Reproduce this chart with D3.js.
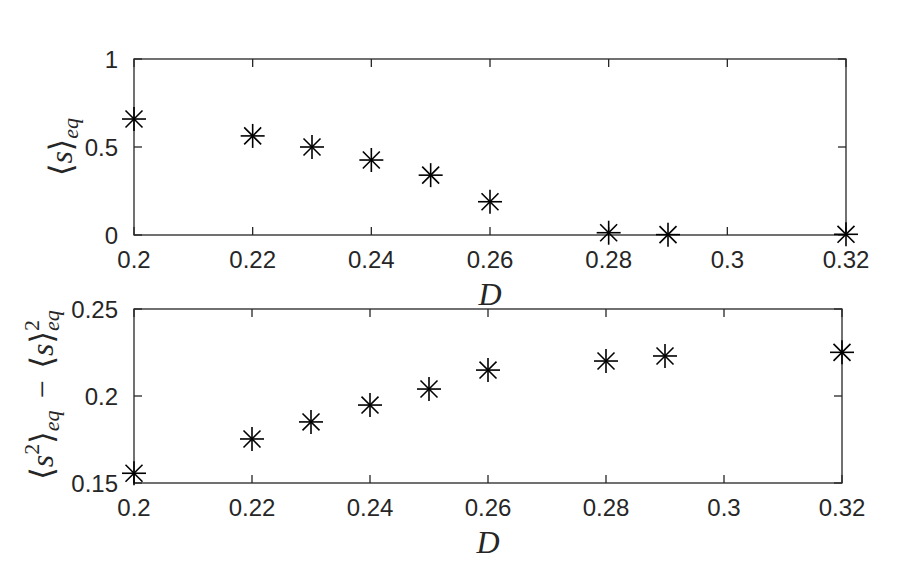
<!DOCTYPE html>
<html>
<head>
<meta charset="utf-8">
<script src="https://cdn.jsdelivr.net/npm/d3@7"></script>
<style>
  body { margin: 0; background: #fff; }
  svg { display: block; }
</style>
</head>
<body>
<div id="chart"></div>
<script>
// diffusion constant D on the x axis
const dValues = [0.2, 0.22, 0.23, 0.24, 0.25, 0.26, 0.28, 0.29, 0.32];
// <s>_eq
const meanS = [0.659, 0.563, 0.500, 0.426, 0.340, 0.189, 0.013, 0.002, 0.004];
// <s^2>_eq - <s>_eq^2
const varS = [0.1556, 0.1753, 0.1851, 0.1948, 0.2040, 0.2149, 0.2201, 0.2230, 0.2251];

const xTicks = [0.2, 0.22, 0.24, 0.26, 0.28, 0.3, 0.32];
const topYTicks = [0, 0.5, 1];
const bottomYTicks = [0.15, 0.2, 0.25];

const width = 914;
const height = 588;
const axisColor = "#262626";
const tickFont = "'Liberation Sans', Arial, Helvetica, sans-serif";
const mathFont = "'Liberation Serif', 'DejaVu Serif', serif";

const svg = d3.select("#chart")
  .append("svg")
  .attr("width", width)
  .attr("height", height);

function drawPanel(opts) {
  const x = d3.scaleLinear().domain([0.2, 0.32]).range([opts.left, opts.right]);
  const y = d3.scaleLinear().domain(opts.yDomain).range([opts.bottom, opts.top]);
  const g = svg.append("g");
  const tickLen = 8;

  // frame
  g.append("rect")
    .attr("x", opts.left)
    .attr("y", opts.top)
    .attr("width", opts.right - opts.left)
    .attr("height", opts.bottom - opts.top)
    .attr("fill", "none")
    .attr("stroke", axisColor)
    .attr("stroke-width", 1.3);

  // x ticks, bottom and top, pointing inward
  const xt = g.append("g").selectAll("g").data(xTicks).enter().append("g");
  xt.append("line")
    .attr("x1", d => x(d)).attr("x2", d => x(d))
    .attr("y1", opts.bottom).attr("y2", opts.bottom - tickLen)
    .attr("stroke", axisColor).attr("stroke-width", 1.3);
  xt.append("line")
    .attr("x1", d => x(d)).attr("x2", d => x(d))
    .attr("y1", opts.top).attr("y2", opts.top + tickLen)
    .attr("stroke", axisColor).attr("stroke-width", 1.3);
  xt.append("text")
    .attr("x", d => x(d))
    .attr("y", opts.bottom + 33)
    .attr("text-anchor", "middle")
    .style("font-family", tickFont)
    .style("font-size", "24px")
    .style("fill", axisColor)
    .text(d => d3.format("~g")(d));

  // y ticks, left and right
  const yt = g.append("g").selectAll("g").data(opts.yTicks).enter().append("g");
  yt.append("line")
    .attr("x1", opts.left).attr("x2", opts.left + tickLen)
    .attr("y1", d => y(d)).attr("y2", d => y(d))
    .attr("stroke", axisColor).attr("stroke-width", 1.3);
  yt.append("line")
    .attr("x1", opts.right).attr("x2", opts.right - tickLen)
    .attr("y1", d => y(d)).attr("y2", d => y(d))
    .attr("stroke", axisColor).attr("stroke-width", 1.3);
  yt.append("text")
    .attr("x", opts.left - 16)
    .attr("y", d => y(d))
    .attr("dy", "0.36em")
    .attr("text-anchor", "end")
    .style("font-family", tickFont)
    .style("font-size", "24px")
    .style("fill", axisColor)
    .text(d => d3.format("~g")(d));

  // x label
  g.append("text")
    .attr("x", (opts.left + opts.right) / 2)
    .attr("y", opts.bottom + 70)
    .attr("text-anchor", "middle")
    .style("font-family", mathFont)
    .style("font-style", "italic")
    .style("font-size", "32px")
    .style("fill", axisColor)
    .text("D");

  // asterisk markers
  const r = 12;
  const spokes = d3.range(4).map(i => i * Math.PI / 4);
  const pts = g.append("g").selectAll("g")
    .data(dValues.map((d, i) => ({ d: d, v: opts.values[i] })))
    .enter().append("g")
    .attr("transform", p => `translate(${x(p.d)},${y(p.v)})`);
  spokes.forEach(a => {
    pts.append("line")
      .attr("x1", -r * Math.cos(a)).attr("y1", -r * Math.sin(a))
      .attr("x2", r * Math.cos(a)).attr("y2", r * Math.sin(a))
      .attr("stroke", "#000")
      .attr("stroke-width", 1.6);
  });

  return g;
}

drawPanel({
  left: 134, right: 846, top: 59, bottom: 235,
  yDomain: [0, 1], yTicks: topYTicks, values: meanS
});

drawPanel({
  left: 134, right: 842, top: 309, bottom: 483,
  yDomain: [0.15, 0.25], yTicks: bottomYTicks, values: varS
});

// y labels (rotated math text)
const mainSize = "32px";
const subSize = "22px";
function mathLabel(cx, cy, parts) {
  const t = svg.append("text")
    .attr("transform", `translate(${cx},${cy}) rotate(-90)`)
    .attr("text-anchor", "middle")
    .attr("dy", "0.3em")
    .style("font-family", mathFont)
    .style("font-size", mainSize)
    .style("fill", axisColor);
  parts.forEach(p => {
    const s = t.append("tspan")
      .attr("baseline-shift", p.shift || "0")
      .style("font-style", p.italic ? "italic" : "normal")
      .style("font-size", p.size || mainSize)
      .style("font-family", p.font || mathFont)
      .text(p.text);
    if (p.dx) s.attr("dx", p.dx);
  });
}

const bracketFont = "'DejaVu Sans', 'DejaVu Serif', serif";

mathLabel(62, 147, [
  { text: "\u27E8", font: bracketFont },
  { text: "s", italic: true },
  { text: "\u27E9", font: bracketFont },
  { text: "eq", italic: true, size: subSize, shift: "-6" }
]);

mathLabel(43, 395, [
  { text: "\u27E8", font: bracketFont },
  { text: "s", italic: true },
  { text: "2", size: subSize, shift: "14" },
  { text: "\u27E9", font: bracketFont },
  { text: "eq", italic: true, size: subSize, shift: "-6" },
  { text: "\u2212", dx: 12 },
  { text: "\u27E8", font: bracketFont, dx: 12 },
  { text: "s", italic: true },
  { text: "\u27E9", font: bracketFont },
  { text: "2", size: subSize, shift: "14" },
  { text: "eq", italic: true, size: subSize, shift: "-6", dx: -11 }
]);
</script>
</body>
</html>
